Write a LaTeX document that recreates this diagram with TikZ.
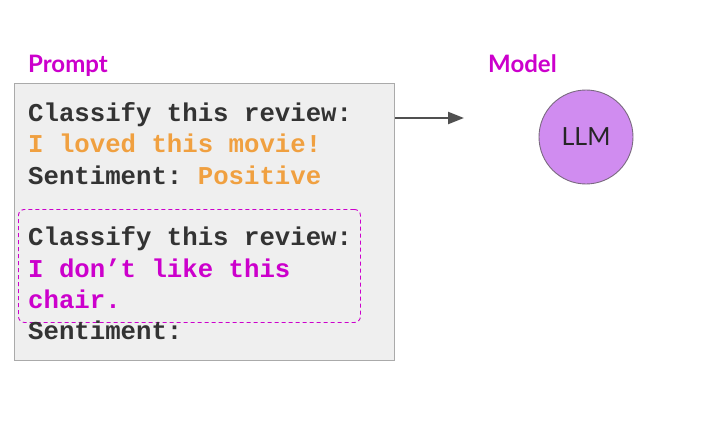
\documentclass[tikz,border=0pt]{standalone}
\usepackage{fontspec}
\setmainfont{Lato}
\newfontfamily\monofont{Liberation Mono}
\usetikzlibrary{arrows.meta}
\definecolor{boxgray}{HTML}{EFEFEF}
\definecolor{boxline}{HTML}{AAAAAA}
\definecolor{magen}{HTML}{CC00CC}
\definecolor{orng}{HTML}{F0A040}
\definecolor{txtdark}{HTML}{333333}
\definecolor{llmfill}{HTML}{D08CF0}
\definecolor{llmline}{HTML}{7A6A80}
\definecolor{arrowgray}{HTML}{505050}
\frenchspacing
\tikzset{
  title/.style={font=\fontsize{24}{28}\selectfont\bfseries, text=magen, inner sep=0, anchor=base west},
  codeline/.style={font=\monofont\bfseries\fontsize{25.7}{31}\selectfont, inner sep=0, anchor=base west},
}
\begin{document}
\begin{tikzpicture}[x=1pt,y=-1pt]
\useasboundingbox (0,0) rectangle (708,422);
\node[title] (ptitle) at (28,73) {Prompt};
\node[title] (mtitle) at (488,73) {Model};
\node[draw=boxline, fill=boxgray, line width=1pt, minimum width=380pt, minimum height=277pt, inner sep=0, anchor=north west] (pbox) at (14,83) {};
\node[codeline, text=txtdark] (l1) at (28,122) {Classify this review:};
\node[codeline, text=orng] (l2) at (28,153) {I loved this movie!};
\node[codeline, text=txtdark] (l3) at (28,184) {Sentiment: \textcolor{orng}{Positive}};
\node[draw=magen, dash pattern=on 4pt off 3pt, rounded corners=6pt, line width=0.9pt, minimum width=342pt, minimum height=113pt, inner sep=0, anchor=north west] (dbox) at (18,209) {};
\node[codeline, text=txtdark] (l4) at (28,245) {Classify this review:};
\node[codeline, text=magen] (l5) at (28,277) {I don’t like this};
\node[codeline, text=magen] (l6) at (28,308) {chair.};
\node[codeline, text=txtdark] (l7) at (28,339) {Sentiment:};
\node[circle, draw=llmline, fill=llmfill, line width=0.9pt, minimum size=94pt, inner sep=0, font=\fontsize{25}{28}\selectfont, text=black!85] (llm) at (586,137) {LLM};
\coordinate (aend) at (464,118);
\draw[arrowgray, line width=2.2pt, -{Triangle[length=16pt,width=12pt]}] (pbox.east |- aend) -- (aend);
\end{tikzpicture}
\end{document}
